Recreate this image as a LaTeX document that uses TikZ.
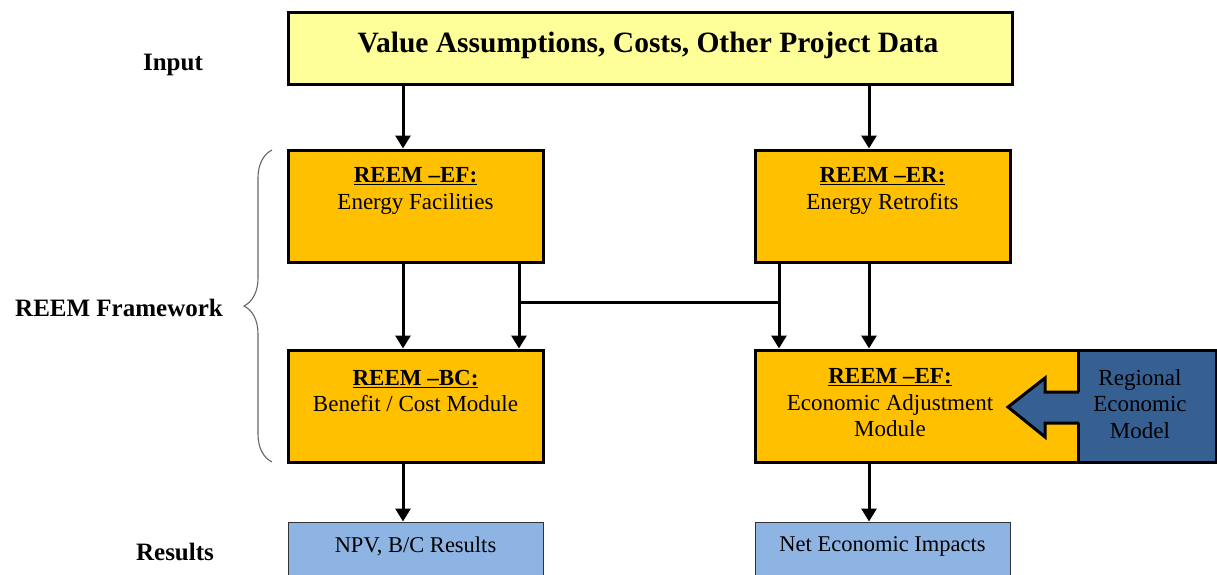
\documentclass[tikz,border=0pt]{standalone}
\usepackage{fontspec}
\setmainfont{Liberation Serif}
\usetikzlibrary{arrows.meta,decorations.pathreplacing}
\definecolor{topyel}{HTML}{FFFF99}
\definecolor{orng}{HTML}{FFC000}
\definecolor{dblue}{HTML}{376092}
\definecolor{lblue}{HTML}{8EB4E3}
\begin{document}
\begin{tikzpicture}[x=1pt,y=-1pt,
  mainbox/.style={draw=black, line width=3pt, inner sep=0pt},
  resbox/.style={draw=black!80, line width=1pt, fill=lblue, inner sep=0pt},
  arr/.style={line width=3pt, -{Triangle[length=13pt,width=15pt]}},
  plain/.style={line width=3pt},
  boxtxt/.style={align=center, font=\fontsize{23}{26.5}\selectfont, inner sep=0pt},
  sidelbl/.style={font=\fontsize{25}{28}\selectfont\bfseries, inner sep=0pt}]
\useasboundingbox (0,0) rectangle (1217,575);

% top input box
\node[mainbox, fill=topyel, minimum width=724pt, minimum height=72pt] (top) at (650,49) {};
\node[font=\fontsize{29.5}{34}\selectfont\bfseries, inner sep=0pt] (toptxt) at (648,45) {Value Assumptions, Costs, Other Project Data};

% side labels
\node[sidelbl] (inp) at (173,65) {Input};
\node[sidelbl] (fw) at (119,308) {REEM Framework};
\node[sidelbl] (res) at (175,552) {Results};

% module boxes
\node[mainbox, fill=orng, minimum width=255pt, minimum height=112pt] (ef) at (415.5,206) {};
\node[mainbox, fill=orng, minimum width=255pt, minimum height=112pt] (er) at (882.5,206) {};
\node[mainbox, fill=orng, minimum width=255pt, minimum height=112pt] (bc) at (415.5,406) {};
\node[mainbox, fill=orng, minimum width=460pt, minimum height=112pt] (ea) at (985,406) {};
\node[mainbox, fill=dblue, minimum width=138pt, minimum height=112pt] (reg) at (1147,406) {};

\node[boxtxt] (eft) at (415.5,191) {\underline{\textbf{REEM –EF:}}\\Energy Facilities};
\node[boxtxt] (ert) at (882.5,191) {\underline{\textbf{REEM –ER:}}\\Energy Retrofits};
\node[boxtxt] (bct) at (415.5,391) {\underline{\textbf{REEM –BC:}}\\Benefit / Cost Module};
\node[boxtxt] (eat) at (890,403) {\underline{\textbf{REEM –EF:}}\\Economic Adjustment\\Module};
\node[boxtxt, text=black] (regt) at (1140,404) {Regional\\Economic\\Model};

% block arrow from regional model
\path[fill=dblue] (1081,392) -- (1045,392) -- (1045,378) -- (1008,407) -- (1045,437) -- (1045,423) -- (1081,423) -- cycle;
\draw[line width=3pt, line join=miter] (1079,392) -- (1045,392) -- (1045,378) -- (1008,407) -- (1045,437) -- (1045,423) -- (1079,423);

% result boxes
\node[resbox, minimum width=255pt, minimum height=60pt] (npv) at (415.5,552) {};
\node[resbox, minimum width=255pt, minimum height=60pt] (net) at (882.5,552) {};
\node[font=\fontsize{22.5}{26}\selectfont, inner sep=0pt] (npvt) at (415.5,546) {NPV, B/C Results};
\node[font=\fontsize{22.5}{26}\selectfont, inner sep=0pt] (nett) at (882.5,546) {Net Economic Impacts};

% connector x positions
\coordinate (xa) at (403,0);
\coordinate (xb) at (519,0);
\coordinate (xc) at (779,0);
\coordinate (xd) at (869,0);
\coordinate (mid) at (519,302);
\coordinate (midr) at (779,302);

\draw[arr] (top.south -| xa) -- (ef.north -| xa);
\draw[arr] (top.south -| xd) -- (er.north -| xd);
\draw[arr] (ef.south -| xa) -- (bc.north -| xa);
\draw[arr] (ef.south -| xb) -- (bc.north -| xb);
\draw[arr] (er.south -| xc) -- (ea.north -| xc);
\draw[arr] (er.south -| xd) -- (ea.north -| xd);
\draw[plain] (mid) -- (midr);
\draw[arr] (bc.south -| xa) -- (npv.north -| xa);
\draw[arr] (ea.south -| xd) -- (net.north -| xd);

% brace
\draw[black!60, line width=1.1pt, decorate, decoration={brace, amplitude=28pt}] (272,462) -- (272,150);
\end{tikzpicture}
\end{document}
